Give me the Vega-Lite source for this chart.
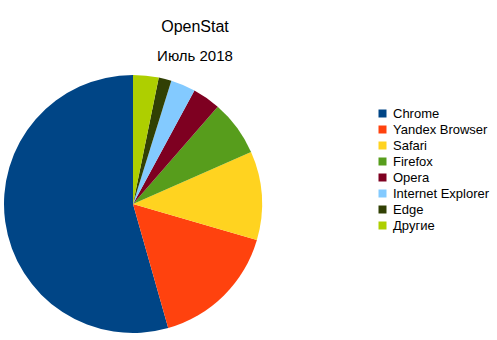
{
  "$schema": "https://vega.github.io/schema/vega-lite/v6.json",
  "autosize": "none",
  "width": 258,
  "height": 258,
  "padding": {"left": 4, "top": 75, "right": 235, "bottom": 7},
  "background": "white",
  "title": {
    "text": "OpenStat",
    "subtitle": "Июль 2018",
    "anchor": "middle",
    "dx": 62,
    "fontSize": 16,
    "subtitleFontSize": 15,
    "font": "Liberation Sans",
    "subtitleFont": "Liberation Sans",
    "fontWeight": "normal",
    "color": "#000000",
    "subtitleColor": "#000000",
    "subtitlePadding": 14,
    "offset": 11
  },
  "data": {
    "values": [
      {"browser": "Chrome", "share": 54.4, "rank": 8},
      {"browser": "Yandex Browser", "share": 16.1, "rank": 7},
      {"browser": "Safari", "share": 11.1, "rank": 6},
      {"browser": "Firefox", "share": 7.0, "rank": 5},
      {"browser": "Opera", "share": 3.5, "rank": 4},
      {"browser": "Internet Explorer", "share": 3.1, "rank": 3},
      {"browser": "Edge", "share": 1.6, "rank": 2},
      {"browser": "Другие", "share": 3.2, "rank": 1}
    ]
  },
  "mark": {"type": "arc"},
  "encoding": {
    "theta": {"field": "share", "type": "quantitative", "stack": true},
    "order": {"field": "rank", "type": "quantitative"},
    "color": {
      "field": "browser",
      "type": "nominal",
      "scale": {
        "domain": ["Chrome", "Yandex Browser", "Safari", "Firefox", "Opera", "Internet Explorer", "Edge", "Другие"],
        "range": ["#004586", "#ff420e", "#ffd320", "#579d1c", "#7e0021", "#83caff", "#314004", "#aecf00"]
      },
      "legend": {
        "title": null,
        "orient": "none",
        "legendX": 372,
        "legendY": 32,
        "symbolType": "square",
        "symbolSize": 64,
        "symbolStrokeWidth": 0,
        "labelFontSize": 13,
        "labelFont": "Liberation Sans",
        "labelColor": "#000000",
        "labelOffset": 4,
        "rowPadding": 2,
        "labelLimit": 200
      }
    }
  },
  "config": {"view": {"stroke": null}}
}
